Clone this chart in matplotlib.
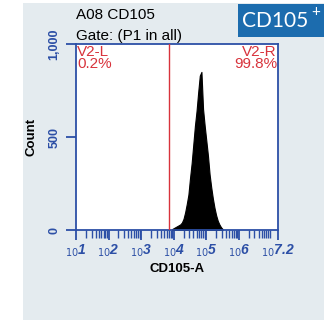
import numpy as np
import matplotlib
matplotlib.use("Agg")
import matplotlib.pyplot as plt
from matplotlib.patches import Rectangle
from matplotlib.ticker import FixedLocator, NullFormatter

plt.rcParams['font.family'] = ['Liberation Sans', 'DejaVu Sans']

# histogram (bin centres in log10 units, counts)
log_centres = [3.95, 4.00, 4.05, 4.10, 4.15, 4.20, 4.25, 4.30, 4.35, 4.40,
               4.45, 4.50, 4.55, 4.60, 4.65, 4.70, 4.75, 4.80, 4.85, 4.90,
               4.95, 5.00, 5.05, 5.10, 5.15, 5.20, 5.25, 5.30, 5.35, 5.40,
               5.45, 5.50]
counts = [5, 10, 15, 20, 25, 30, 40, 60, 95, 140,
          190, 280, 360, 460, 560, 640, 740, 830, 850, 650,
          560, 480, 400, 300, 230, 170, 120, 80, 50, 30,
          15, 5]
gate_log = 3.85
left_label = ["V2-L", "0.2%"]
right_label = ["V2-R", "99.8%"]
decades = [1, 2, 3, 4, 5, 6, 7.2]
yticks = [0, 500, 1000]
ytick_labels = ["0", "500", "1,000"]

blue = "#2c4fa6"
red = "#d8333c"

fig = plt.figure(figsize=(3.24, 3.2), dpi=100)
fig.patch.set_facecolor("white")
# light panel behind everything
fig.patches.append(Rectangle((23/324, 0), 1, 1 - 3/320, transform=fig.transFigure,
                             facecolor="#e4ebef", edgecolor="none", zorder=-10))
# blue label box
fig.patches.append(Rectangle((238/324, 1 - 37/320), 1, 33/320, transform=fig.transFigure,
                             facecolor="#1c6cae", edgecolor="none", zorder=1))
fig.text(242/324, 1 - 21/320, "CD105", color="white", fontsize=15, family="Lato",
         va="center", ha="left")
fig.text(311/324, 1 - 12/320, "+", color="white", fontsize=11, family="Lato",
         va="center", ha="left")

ax = fig.add_axes([76/324, 90/320, 202/324, 186/320])
ax.set_facecolor("white")

xs = [10 ** c for c in log_centres]
ax.fill_between(xs, counts, 0, color="black", lw=0.8, zorder=2)
ax.axvline(10 ** gate_log, color=red, lw=1, zorder=3)

ax.set_xscale("log")
ax.set_xlim(10 ** 1, 10 ** 7.2)
ax.set_ylim(0, 1000)

for s in ax.spines.values():
    s.set_color(blue)
    s.set_linewidth(1.3)

major = [10 ** d for d in decades]
ax.xaxis.set_major_locator(FixedLocator(major))
ax.set_xticklabels([f"$_{{10}}${d:g}" for d in decades], color=blue,
                   fontsize=10, style="italic", fontweight="bold")
minor = [m * 10 ** e for e in range(1, 8) for m in range(2, 10) if m * 10 ** e < 10 ** 7.2]
ax.xaxis.set_minor_locator(FixedLocator(minor))
ax.xaxis.set_minor_formatter(NullFormatter())
ax.tick_params(axis="x", which="major", length=7, width=1.3, color=blue, pad=2)
ax.tick_params(axis="x", which="minor", length=6, width=1.0, color=blue)

ax.set_yticks(yticks)
ax.set_yticklabels(ytick_labels, color=blue, fontsize=9, fontweight="bold",
                   rotation=90, va="center")
ax.tick_params(axis="y", length=7, width=1.3, color=blue, pad=4)

ax.set_xlabel("CD105-A", fontsize=9.5, fontweight="bold", labelpad=3)
ax.set_ylabel("Count", fontsize=9.5, fontweight="bold", labelpad=8)

ax.text(0.005, 0.995, "\n".join(left_label), transform=ax.transAxes, color=red,
        fontsize=11, va="top", ha="left", linespacing=0.85)
ax.text(0.995, 0.995, "\n".join(right_label), transform=ax.transAxes, color=red,
        fontsize=11, va="top", ha="right", linespacing=0.85)

fig.text(76/324, 1 - 15/320, "A08 CD105", fontsize=11, va="center", ha="left")
fig.text(76/324, 1 - 36/320, "Gate: (P1 in all)", fontsize=11, va="center", ha="left")

fig.savefig("out.png", dpi=100)
